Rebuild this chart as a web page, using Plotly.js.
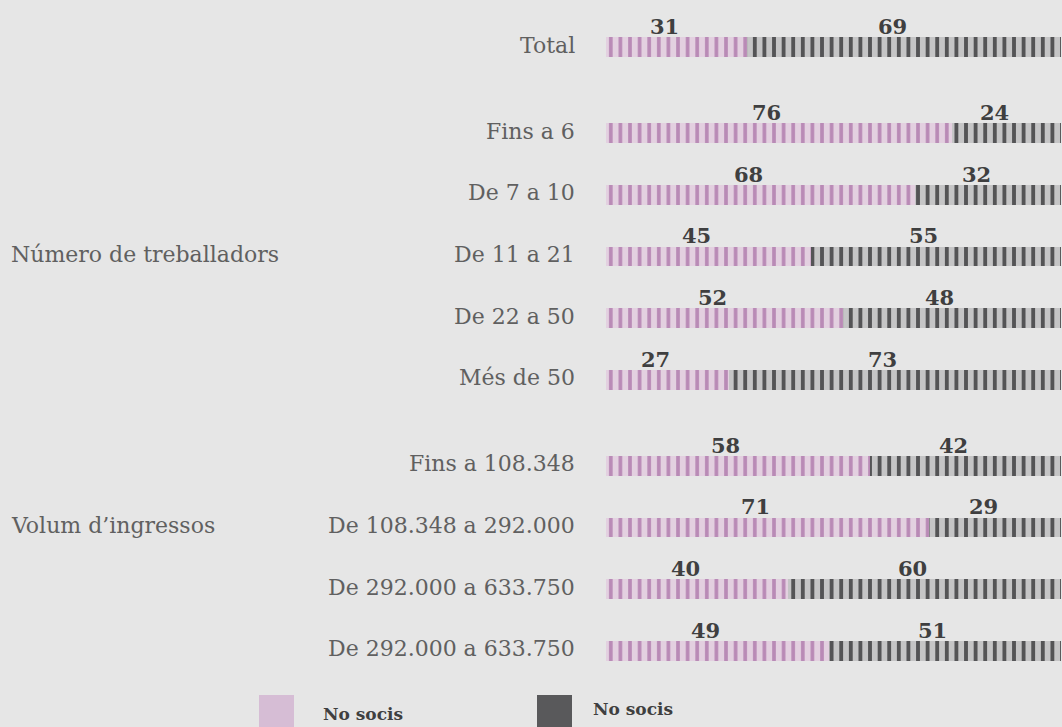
<!DOCTYPE html>
<html>
<head>
<meta charset="utf-8">
<script src="https://cdn.plot.ly/plotly-3.0.1.min.js"></script>
<style>
html,body{margin:0;padding:0;background:#e6e6e6;}
#chart{width:1062px;height:727px;}
</style>
</head>
<body>
<div id="chart"></div>
<script>
// ---- data ----
const categories = ['Total','Fins a 6','De 7 a 10','De 11 a 21','De 22 a 50','Més de 50',
  'Fins a 108.348','De 108.348 a 292.000','De 292.000 a 633.750','De 292.000 a 633.750'];
const groupOf = [0,1,1,1,1,1,2,2,2,2];
const groupNames = ['', 'Número de treballadors', 'Volum d’ingressos'];
const sociValues = [31,76,68,45,52,27,58,71,40,49];
const noSociValues = [69,24,32,55,48,73,42,29,60,51];
const legendLabels = ['No socis','No socis'];

// ---- layout helpers ----
const W = 1062, H = 727, L = 606, R = 1;
const plotW = W - L - R;
const GROUP_GAP = 0.4;
const ypos = categories.map((c,i)=> i + groupOf[i]*GROUP_GAP);
const unit = 61.6;
const yTop = -47/unit;
const yBot = yTop + H/unit;
const px2paperX = p => (p - L)/plotW;
const px2paperY = p => (H - p)/H;

const pinkBg = '#e3d0e0', pinkFg = '#b98ab6';
const grayBg = '#c5c5c6', grayFg = '#545456';
const textCol = '#606060', valCol = '#3f3f40';
const serif = '"DejaVu Serif", serif';

const traces = [
  {type:'bar', orientation:'h', y: ypos, x: sociValues, width:0.32, name: legendLabels[0],
   marker:{color:pinkBg, line:{width:0},
     pattern:{shape:'|', fillmode:'replace', fgcolor:pinkFg, bgcolor:pinkBg, size:9.6, solidity:0.38}},
   hoverinfo:'x'},
  {type:'bar', orientation:'h', y: ypos, x: noSociValues, width:0.32, name: legendLabels[1],
   marker:{color:grayBg, line:{width:0},
     pattern:{shape:'|', fillmode:'replace', fgcolor:grayFg, bgcolor:grayBg, size:9.6, solidity:0.4}},
   hoverinfo:'x'}
];

const annotations = [];
categories.forEach((c,i)=>{
  // row labels
  annotations.push({xref:'paper', x:0, xshift:-29, xanchor:'right', yref:'y', y:ypos[i], yanchor:'middle',
    yshift:2, text:c, showarrow:false, font:{family:serif, size:22, color:textCol}});
  // value labels
  annotations.push({xref:'x', x:sociValues[i]/2, xshift:-12, yref:'y', y:ypos[i], yanchor:'bottom', yshift:6,
    text:'<b>'+sociValues[i]+'</b>', showarrow:false, font:{family:serif, size:21, color:valCol}});
  annotations.push({xref:'x', x:sociValues[i]+noSociValues[i]/2, xshift:-12, yref:'y', y:ypos[i], yanchor:'bottom', yshift:6,
    text:'<b>'+noSociValues[i]+'</b>', showarrow:false, font:{family:serif, size:21, color:valCol}});
});
// group labels
for (let g=1; g<groupNames.length; g++){
  const rows = categories.map((c,i)=>i).filter(i=>groupOf[i]===g);
  const mid = rows[Math.floor((rows.length-1)/2)];
  annotations.push({xref:'paper', x:px2paperX(9), xanchor:'left', yref:'y', y:ypos[mid], yanchor:'middle', yshift:2,
    text:groupNames[g], showarrow:false, font:{family:serif, size:22, color:textCol}});
}
// legend texts
annotations.push({xref:'paper', yref:'paper', x:px2paperX(321), y:px2paperY(714), xanchor:'left', yanchor:'middle',
  text:'<b>'+legendLabels[0]+'</b>', showarrow:false, font:{family:serif, size:17, color:valCol}});
annotations.push({xref:'paper', yref:'paper', x:px2paperX(591), y:px2paperY(709), xanchor:'left', yanchor:'middle',
  text:'<b>'+legendLabels[1]+'</b>', showarrow:false, font:{family:serif, size:17, color:valCol}});

const shapes = [
  {type:'rect', xref:'paper', yref:'paper', x0:px2paperX(259), x1:px2paperX(294), y0:px2paperY(695), y1:px2paperY(730),
   fillcolor:'#d6bdd5', line:{width:0}},
  {type:'rect', xref:'paper', yref:'paper', x0:px2paperX(537), x1:px2paperX(572), y0:px2paperY(695), y1:px2paperY(730),
   fillcolor:'#59595b', line:{width:0}}
];

const layout = {
  width:W, height:H, margin:{l:L, r:R, t:0, b:0},
  paper_bgcolor:'#e6e6e6', plot_bgcolor:'#e6e6e6',
  barmode:'stack', showlegend:false,
  xaxis:{range:[0,100], visible:false, fixedrange:true},
  yaxis:{range:[yBot, yTop], visible:false, fixedrange:true},
  annotations, shapes
};
Plotly.newPlot('chart', traces, layout, {displayModeBar:false, staticPlot:true});
</script>
</body>
</html>
